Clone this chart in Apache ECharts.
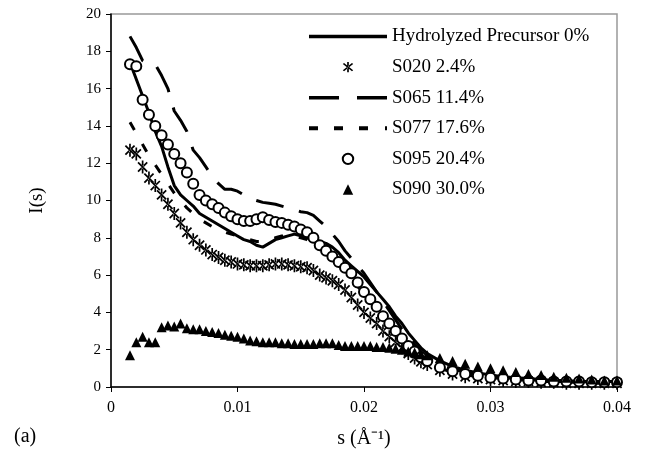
<!DOCTYPE html>
<html>
<head>
<meta charset="utf-8">
<script src="https://cdn.jsdelivr.net/npm/echarts@6/dist/echarts.min.js"></script>
<style>
  html, body { margin: 0; padding: 0; background: #fff; }
  #chart { width: 648px; height: 456px; }
</style>
</head>
<body>
<div id="chart"></div>
<script>
// s values (1/Å) shared by all curves
const sValues = [
  0.0015, 0.002, 0.0025, 0.003, 0.0035, 0.004, 0.0045, 0.005, 0.0055, 0.006,
  0.0065, 0.007, 0.0075, 0.008, 0.0085, 0.009, 0.0095, 0.010, 0.0105, 0.011,
  0.0115, 0.012, 0.0125, 0.013, 0.0135, 0.014, 0.0145, 0.015, 0.0155, 0.016,
  0.0165, 0.017, 0.0175, 0.018, 0.0185, 0.019, 0.0195, 0.020, 0.0205, 0.021,
  0.0215, 0.022, 0.0225, 0.023, 0.0235, 0.024, 0.0245, 0.025,
  0.026, 0.027, 0.028, 0.029, 0.030, 0.031, 0.032, 0.033, 0.034, 0.035,
  0.036, 0.037, 0.038, 0.039, 0.040
];

const hydrolyzed = [
  17.4, 16.5, 15.6, 14.7, 13.7, 12.9, 11.8, 10.8, 10.3, 10.0,
  9.7, 9.3, 9.1, 8.9, 8.7, 8.5, 8.3, 8.1, 7.9, 7.8,
  7.6, 7.5, 7.7, 7.9, 8.0, 8.1, 8.2, 8.1, 8.0, 7.9,
  7.8, 7.7, 7.5, 7.2, 6.8, 6.5, 6.2, 5.9, 5.5, 5.1,
  4.7, 4.3, 3.8, 3.4, 2.9, 2.5, 2.1, 1.8,
  1.4, 1.1, 0.9, 0.75, 0.65, 0.55, 0.5, 0.45, 0.4, 0.35,
  0.35, 0.3, 0.3, 0.3, 0.3
];

const s020 = [
  12.7, 12.5, 11.8, 11.2, 10.8, 10.3, 9.8, 9.3, 8.8, 8.3,
  7.9, 7.6, 7.35, 7.1, 6.95, 6.8, 6.7, 6.6, 6.55, 6.5,
  6.5, 6.5, 6.55, 6.6, 6.6, 6.55, 6.5, 6.45, 6.4, 6.25,
  6.0, 5.85, 5.7, 5.5, 5.2, 4.8, 4.4, 4.0, 3.7, 3.4,
  3.0, 2.7, 2.4, 2.1, 1.8, 1.55, 1.35, 1.2,
  0.9, 0.7, 0.55, 0.45, 0.4, 0.35, 0.3, 0.3, 0.25, 0.25,
  0.2, 0.2, 0.2, 0.2, 0.2
];

const s065 = [
  18.8, 18.2, 17.5, 17.3, 17.3, 16.7, 16.0, 14.8, 14.3, 13.7,
  12.7, 12.3, 11.8, 11.3, 10.9, 10.6, 10.6, 10.5, 10.3, 10.1,
  10.0, 9.9, 9.85, 9.8, 9.7, 9.6, 9.5, 9.4, 9.35, 9.2,
  8.9, 8.6, 8.2, 7.8, 7.3, 6.9, 6.5, 6.1, 5.6, 5.1,
  4.6, 4.1, 3.6, 3.1, 2.7, 2.3, 1.9, 1.6,
  1.2, 0.95, 0.8, 0.65, 0.55, 0.5, 0.45, 0.4, 0.35, 0.3,
  0.3, 0.3, 0.25, 0.25, 0.25
];

const s077 = [
  14.2, 13.6, 13.0, 12.4, 11.9, 11.4, 10.9, 10.4, 10.0, 9.6,
  9.3, 9.0, 8.8, 8.6, 8.4, 8.3, 8.2, 8.1, 8.0, 7.9,
  7.8, 7.8, 7.9, 8.0, 8.1, 8.1, 8.1, 8.0, 7.9, 7.7,
  7.5, 7.3, 7.0, 6.6, 6.2, 5.8, 5.4, 5.0, 4.6, 4.2,
  3.7, 3.3, 2.9, 2.5, 2.1, 1.8, 1.5, 1.3,
  1.0, 0.8, 0.65, 0.55, 0.5, 0.45, 0.4, 0.35, 0.3, 0.3,
  0.25, 0.25, 0.2, 0.2, 0.2
];

const s095 = [
  17.3, 17.2, 15.4, 14.6, 14.0, 13.5, 13.0, 12.5, 12.0, 11.5,
  10.9, 10.3, 10.0, 9.8, 9.6, 9.35, 9.15, 9.0, 8.9, 8.9,
  9.0, 9.1, 8.95, 8.85, 8.8, 8.7, 8.6, 8.45, 8.3, 8.0,
  7.6, 7.3, 7.0, 6.7, 6.4, 6.1, 5.6, 5.1, 4.7, 4.3,
  3.8, 3.4, 3.0, 2.6, 2.2, 1.9, 1.6, 1.4,
  1.05, 0.85, 0.7, 0.6, 0.5, 0.45, 0.4, 0.35, 0.35, 0.3,
  0.3, 0.3, 0.25, 0.25, 0.25
];

const s090 = [
  1.7, 2.4, 2.7, 2.4, 2.4, 3.2, 3.3, 3.25, 3.4, 3.15,
  3.1, 3.1, 3.0, 2.95, 2.9, 2.8, 2.75, 2.7, 2.6, 2.5,
  2.45, 2.4, 2.4, 2.4, 2.35, 2.35, 2.3, 2.3, 2.3, 2.3,
  2.35, 2.35, 2.35, 2.25, 2.2, 2.2, 2.2, 2.2, 2.2, 2.15,
  2.15, 2.1, 2.05, 2.0, 1.9, 1.85, 1.75, 1.7,
  1.55, 1.4, 1.25, 1.1, 1.0, 0.9, 0.8, 0.7, 0.65, 0.55,
  0.5, 0.45, 0.4, 0.35, 0.35
];

const seriesNames = [
  'Hydrolyzed Precursor 0%', 'S020 2.4%', 'S065 11.4%',
  'S077 17.6%', 'S095 20.4%', 'S090 30.0%'
];
const xTicks = [0, 0.01, 0.02, 0.03, 0.04];

const pair = arr => sValues.map((s, i) => [s, arr[i]]);

// asterisk drawn as three thin bars
const asterisk = 'path://M-1.3,-10L1.3,-10L1.3,10L-1.3,10Z' +
  'M-6.1,-8L8,6.1L6.1,8L-8,-6.1Z' +
  'M-6.1,8L8,-6.1L6.1,-8L-8,6.1Z';

// legend icons for the three curves (solid, long dash, short dash)
const iconSolid = 'path://M0,0L78,0L78,3.5L0,3.5Z';
const iconLong = 'path://M0,0L30,0L30,3.5L0,3.5ZM48,0L78,0L78,3.5L48,3.5Z';
const iconShort = 'path://M0,0L9,0L9,4L0,4ZM25,0L34,0L34,4L25,4Z' +
  'M50,0L59,0L59,4L50,4ZM76,0L78,0L78,4L76,4Z';

const serif = 'Liberation Serif';
const chart = echarts.init(document.getElementById('chart'));

const lineSeries = (name, data, type) => ({
  name: name,
  type: 'line',
  data: data,
  symbol: 'none',
  showSymbol: false,
  animation: false,
  lineStyle: { color: '#000', width: 3, type: type },
  itemStyle: { color: '#000' }
});

const markSeries = (name, data, symbol, size, style) => ({
  name: name,
  type: 'line',
  data: data,
  symbol: symbol,
  symbolSize: size,
  symbolKeepAspect: true,
  showSymbol: true,
  showAllSymbol: true,
  animation: false,
  lineStyle: { width: 0, opacity: 0 },
  itemStyle: style
});

const option = {
  backgroundColor: '#fff',
  animation: false,
  grid: {
    left: 111, right: 31, top: 14, bottom: 69,
    show: true, borderColor: '#999', borderWidth: 1.5
  },
  legend: {
    orient: 'vertical',
    left: 304,
    top: 22,
    itemWidth: 78,
    itemHeight: 13,
    itemGap: 11.6,
    textStyle: { fontFamily: serif, fontSize: 19, lineHeight: 19, color: '#000' },
    data: [
      { name: seriesNames[0], icon: iconSolid },
      { name: seriesNames[1] },
      { name: seriesNames[2], icon: iconLong },
      { name: seriesNames[3], icon: iconShort },
      { name: seriesNames[4] },
      { name: seriesNames[5] }
    ]
  },
  xAxis: {
    type: 'value',
    min: 0, max: 0.04, interval: 0.01,
    name: 's (\u00C5\u207B\u00B9)',
    nameLocation: 'middle',
    nameGap: 42,
    nameTextStyle: { fontFamily: serif, fontSize: 20, color: '#000' },
    axisLine: { lineStyle: { color: '#000', width: 1.5 } },
    axisTick: { show: true, inside: false, length: 5, lineStyle: { color: '#000' } },
    axisLabel: {
      fontFamily: serif, fontSize: 16, color: '#000', margin: 13,
      formatter: v => {
        const t = xTicks.find(x => Math.abs(x - v) < 1e-9);
        return t === undefined ? '' : String(t);
      }
    },
    splitLine: { show: false }
  },
  yAxis: {
    type: 'value',
    min: 0, max: 20, interval: 2,
    name: 'I(s)',
    nameLocation: 'middle',
    nameGap: 64,
    nameTextStyle: { fontFamily: serif, fontSize: 19, color: '#000' },
    axisLine: { show: true, lineStyle: { color: '#000', width: 1.5 } },
    axisTick: { show: true, inside: false, length: 5, lineStyle: { color: '#000' } },
    axisLabel: { fontFamily: serif, fontSize: 15, color: '#000', margin: 10 },
    splitLine: { show: false }
  },
  graphic: [
    {
      type: 'text', left: 14, top: 427,
      style: { text: '(a)', font: '20px "Liberation Serif"', fill: '#000' }
    }
  ],
  series: [
    lineSeries(seriesNames[0], pair(hydrolyzed), 'solid'),
    markSeries(seriesNames[1], pair(s020), asterisk, 13, { color: '#000' }),
    lineSeries(seriesNames[2], pair(s065), [28, 16]),
    lineSeries(seriesNames[3], pair(s077), [9, 16]),
    markSeries(seriesNames[4], pair(s095), 'emptyCircle', 10,
      { color: '#000', borderWidth: 1.2 }),
    markSeries(seriesNames[5], pair(s090), 'triangle', 10, { color: '#000' })
  ]
};

chart.setOption(option);
</script>
</body>
</html>
